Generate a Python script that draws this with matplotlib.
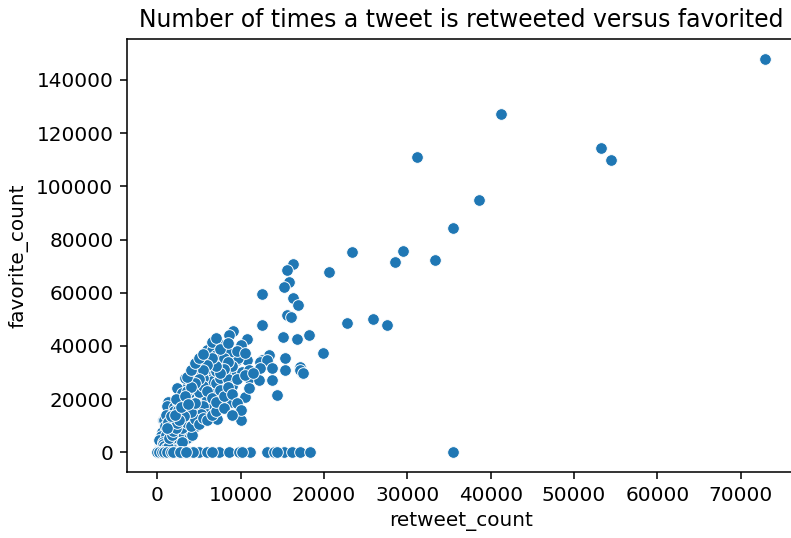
import matplotlib
matplotlib.use('Agg')
import matplotlib.pyplot as plt
import seaborn as sns
import pandas as pd

plt.rcParams['font.size'] = 10.3

# values (retweet_count, favorite_count)
retweet_count = [
    72900, 41200, 31200, 53200, 54400, 38600, 35500, 23300, 29500, 28500,
    33300, 20600, 35450,
    16300, 15500, 15800, 15200, 12600, 16300, 16900, 15600, 16000, 12500,
    22700, 25900, 27600, 18200, 19900, 17400, 17150, 9100, 10750, 15100,
    16700, 8000, 5900, 10000, 8600, 7800, 13350, 12550, 10750, 9500,
    12350, 13150, 15350, 12350, 13750, 15350, 17150, 10950, 12150, 13750,
    14350, 10500, 10000, 9000, 7500, 6600, 17500,
    5900, 7900, 9700, 7500, 9300, 8100, 6500, 5300, 5700, 6900,
    8300, 8900, 7500, 5700, 7100, 4500, 3700, 1900, 1300, 2700,
    4100, 2900, 700, 300, 4900, 3700, 8700, 10100, 6900, 6100,
    3300, 4500, 2300, 1500, 4900, 3300, 2100, 3000, 4000, 5400,
    1200, 800, 4600, 3600, 1800, 400,
    1000, 1500, 2000, 2500, 1200, 800, 500, 1500, 2500, 3000,
    3500, 2000, 2500, 3500, 4000, 4500, 3000, 4000, 5000, 5500,
    6000, 6500, 5500, 6000, 6500, 5500, 4500, 6000, 5000, 7500,
    8000, 7000, 7500, 8500, 9000, 6000, 6500, 7000, 8000, 7000,
    5000, 4500, 3500, 2000, 1000, 600, 300, 100, 200, 700,
    1100, 1500, 2300, 2700, 3200, 4200, 5200, 2800, 1800, 1600,
    900, 400, 200, 50, 150, 450, 900, 1300, 2500, 3800,
    4200,
    1500, 2000, 2500, 3000, 3500, 4000, 4500, 5000, 5500, 6000,
    6500, 7000, 3000, 3500, 4000, 4500, 5000, 5500, 6000, 6500,
    7000, 7500, 8000, 8500, 9000, 9500, 9000, 8500, 8000, 7500,
    7000, 6500, 6000, 5500, 5000, 4500, 4000, 3500, 4000, 4500,
    5000, 5500, 6500, 7000, 7500, 8500, 9500, 10500, 11000, 10500,
    11500, 11000, 9500, 8000, 10000, 9000, 2500, 2200, 3200, 1800,
    1300, 1000, 700, 1200, 2000, 2500, 3000, 1700, 600, 300,
    1000, 2000,
    100, 250, 350, 500, 650, 850, 1000, 1300, 1400, 1700,
    1900, 2200, 2400, 2600, 1100, 1600, 2100, 2800, 3300, 3700,
    0, 200, 500, 800, 1160, 1600, 2360, 3000, 3750, 4950,
    5900, 7350, 8550, 9750, 11150, 13150, 13950, 15150, 16150, 17150,
    18260, 14400, 10200, 6600, 4300, 1900, 2700, 3400,
]
favorite_count = [
    147800, 127200, 111200, 114300, 109800, 94900, 84300, 75500, 75600, 71700,
    72400, 67900, 0,
    70900, 68700, 64200, 62000, 59700, 58200, 55300, 51500, 50800, 47800,
    48600, 50000, 47800, 44000, 37300, 30000, 32200, 45700, 42500, 43300,
    42600, 40500, 38600, 40300, 44000, 40300, 36500, 34700, 34700, 34700,
    34100, 34700, 35300, 31600, 31600, 30950, 30950, 27850, 27200, 27200,
    21600, 20750, 12000, 30700, 34100, 31600, 29700,
    38400, 40300, 35300, 33450, 30350, 29700, 29100, 34100, 24100, 22900,
    22200, 19100, 17900, 13500, 12650, 9800, 5400, 5400, 19100, 21000,
    19100, 14800, 12300, 2900, 26600, 25300, 37800, 30350, 34100, 31600,
    27850, 30350, 24100, 16000, 16000, 9800, 9150, 22250, 26600, 33450,
    17300, 12300, 9800, 5400, 4800, 2900,
    8000, 10000, 12000, 13000, 6000, 5000, 3500, 7500, 10500, 12500,
    15000, 17000, 18500, 20000, 22500, 24000, 16500, 17500, 20000, 22000,
    25500, 27000, 28000, 20000, 17000, 17500, 14000, 14500, 12000, 20500,
    25000, 26000, 28000, 27500, 25000, 36000, 38500, 36500, 35500, 30500,
    30500, 28500, 23000, 15500, 14000, 7500, 1500, 500, 300, 1800,
    2800, 3600, 6500, 8000, 7200, 12000, 14500, 11000, 12500, 8500,
    10000, 6000, 4500, 200, 900, 1200, 3400, 4200, 4500, 8500,
    6500,
    5000, 7000, 6000, 9000, 11000, 10000, 12500, 10500, 13000, 12000,
    14000, 15500, 19000, 17500, 15000, 18500, 22500, 25000, 23000, 20500,
    19000, 23500, 21000, 24500, 22000, 27500, 32500, 34000, 31500, 30000,
    32500, 35500, 33000, 31000, 27500, 26000, 24500, 28500, 31000, 33500,
    35500, 37000, 41500, 43000, 39000, 41000, 38000, 37500, 31000, 29000,
    30000, 24000, 18500, 16500, 16000, 14000, 16000, 20000, 13500, 10000,
    11500, 6500, 4000, 3000, 2500, 3500, 4000, 1500, 500, 200,
    800, 1000,
    100, 700, 400, 2000, 3000, 2200, 1500, 2000, 5500, 6500,
    8000, 9000, 11000, 12000, 9000, 13500, 14000, 17000, 21000, 18000,
    0, 0, 0, 0, 0, 0, 0, 0, 0, 0,
    0, 0, 0, 0, 0, 0, 0, 0, 0, 0,
    0, 0, 0, 0, 0, 0, 0, 0,
]

df = pd.DataFrame({'retweet_count': retweet_count, 'favorite_count': favorite_count})

fig = plt.figure(figsize=(791/140, 538/140), dpi=140)
ax = fig.add_axes([127/791, 66/538, 669/791, 433/538])
sns.scatterplot(data=df, x='retweet_count', y='favorite_count', ax=ax)
ax.set_xlim(-3650, 76650)
ax.set_ylim(-7400, 155400)
ax.set_title('Number of times a tweet is retweeted versus favorited', fontsize=12.1)
fig.savefig('out.png', dpi=140)
plt.close()
